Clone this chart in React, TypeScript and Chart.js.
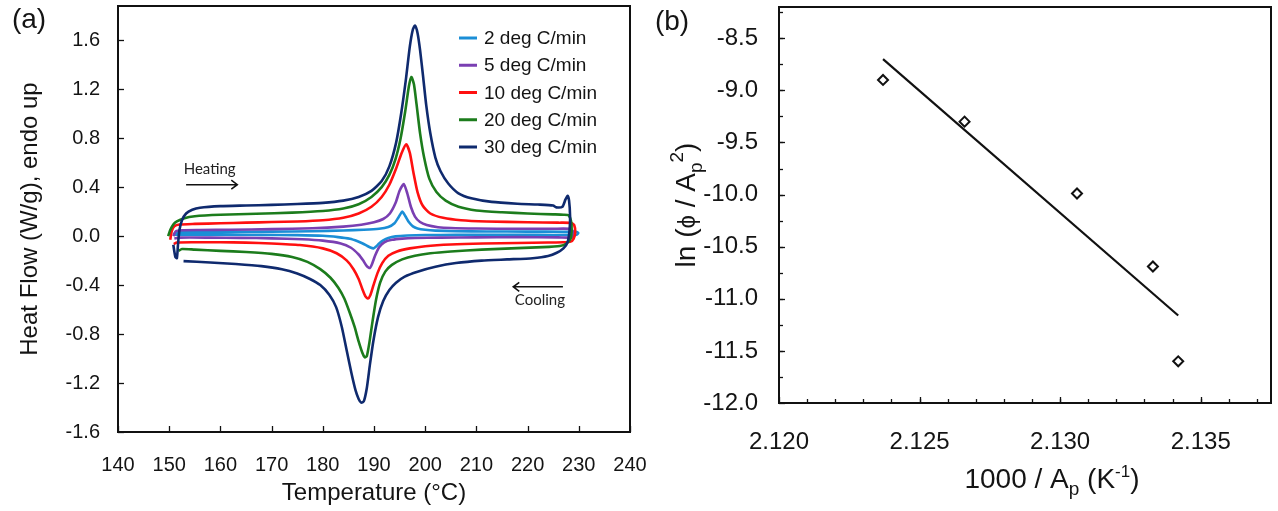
import React, { useEffect, useRef } from "react";
import { Chart, registerables } from "chart.js";

Chart.register(...registerables);

// ---------------- Panel (a): DSC heat flow loops ----------------
const tempTicks = [140, 150, 160, 170, 180, 190, 200, 210, 220, 230, 240];
const heatFlowTicks = [-1.6, -1.2, -0.8, -0.4, 0.0, 0.4, 0.8, 1.2, 1.6];
const rateLabels = ["2 deg C/min", "5 deg C/min", "10 deg C/min", "20 deg C/min", "30 deg C/min"];
const rateColors = ["#1b8ed6", "#7a3fb2", "#ff1010", "#1c7c1c", "#0f2a6e"];

// 2 deg C/min
const heat2T = [150.8, 151.5, 155, 162, 170, 178, 184, 188, 191, 192.8, 194, 194.8, 195.5, 196.1, 196.8, 197.6, 198.5, 200, 202, 206, 212, 220, 227, 229.5, 229.9];
const heat2V = [0.015, 0.03, 0.033, 0.035, 0.037, 0.04, 0.046, 0.052, 0.06, 0.075, 0.105, 0.155, 0.2, 0.165, 0.115, 0.08, 0.063, 0.052, 0.045, 0.04, 0.038, 0.037, 0.036, 0.036, 0.025];
const cool2T = [229.6, 228, 222, 214, 206, 200, 196.5, 194.2, 192.8, 191.8, 191, 190.4, 189.9, 189.3, 188.6, 187.8, 186.8, 185.3, 183, 180, 175, 168, 160, 152, 151];
const cool2V = [0.012, 0.01, 0.01, 0.01, 0.01, 0.009, 0.005, -0.002, -0.015, -0.035, -0.06, -0.085, -0.1, -0.093, -0.078, -0.06, -0.042, -0.022, -0.008, 0.003, 0.008, 0.01, 0.012, 0.012, 0.012];

// 5 deg C/min
const heat5T = [150.8, 151.3, 152.5, 156, 162, 170, 178, 184, 187.5, 190, 191.8, 193.1, 194.2, 195, 195.8, 196.5, 197.2, 198, 199, 200.3, 202.5, 205, 210, 218, 225, 228.5, 229];
const heat5V = [0.0, 0.04, 0.048, 0.05, 0.052, 0.057, 0.064, 0.078, 0.093, 0.113, 0.14, 0.185, 0.27, 0.37, 0.425, 0.35, 0.24, 0.16, 0.115, 0.09, 0.073, 0.066, 0.062, 0.06, 0.06, 0.058, 0.02];
const cool5T = [228.8, 226, 218, 210, 203, 198, 195.5, 193.5, 192, 191, 190.2, 189.6, 189.2, 188.6, 187.9, 187, 185.5, 183.5, 180, 176, 170, 164, 158, 152, 151];
const cool5V = [-0.01, -0.01, -0.008, -0.01, -0.012, -0.015, -0.02, -0.03, -0.05, -0.09, -0.16, -0.23, -0.26, -0.245, -0.2, -0.15, -0.095, -0.06, -0.037, -0.026, -0.018, -0.014, -0.012, -0.012, -0.02];

// 10 deg C/min
const heat10T = [150.2, 150.5, 151, 152, 155, 160, 165, 170, 175, 180, 184, 187, 189.5, 191.5, 193, 194.3, 195.4, 196.3, 197, 197.7, 198.5, 199.5, 201, 203.5, 207, 212, 220, 226, 228.5, 229.1, 229.3, 229];
const heat10V = [-0.03, 0.04, 0.08, 0.095, 0.1, 0.105, 0.11, 0.115, 0.12, 0.13, 0.15, 0.185, 0.24, 0.32, 0.42, 0.55, 0.68, 0.75, 0.68, 0.52, 0.36, 0.25, 0.185, 0.15, 0.13, 0.12, 0.113, 0.11, 0.108, 0.09, 0.03, -0.02];
const cool10T = [228.4, 227, 224, 218, 211.3, 205, 200, 197, 194.5, 192.8, 191.6, 190.7, 189.9, 189.3, 188.8, 188.3, 187.7, 187, 186, 184.7, 182.7, 180, 175.5, 170, 165, 160, 155, 151.5, 150.9];
const cool10V = [-0.045, -0.05, -0.052, -0.056, -0.06, -0.068, -0.082, -0.1, -0.125, -0.16, -0.22, -0.3, -0.4, -0.48, -0.51, -0.49, -0.43, -0.35, -0.27, -0.2, -0.14, -0.1, -0.073, -0.06, -0.053, -0.05, -0.05, -0.052, -0.065];

// 20 deg C/min
const heat20T = [149.8, 150.2, 150.8, 151.5, 152.8, 155, 160, 167, 174, 180, 184, 187, 189.5, 191.5, 193, 194.2, 195.2, 196.1, 196.8, 197.3, 197.8, 198.3, 199, 199.8, 200.8, 202.2, 204, 206.5, 210, 215, 220, 225, 227, 228, 228.5, 228.6];
const heat20V = [0.0, 0.05, 0.095, 0.12, 0.145, 0.163, 0.175, 0.183, 0.192, 0.205, 0.225, 0.26, 0.32, 0.4, 0.5, 0.63, 0.8, 1.02, 1.22, 1.3, 1.24, 1.08, 0.84, 0.64, 0.47, 0.36, 0.29, 0.24, 0.21, 0.195, 0.185, 0.178, 0.175, 0.17, 0.12, 0.05];
const cool20T = [228.4, 227.6, 226.3, 223, 218, 211, 205, 201, 198, 195.5, 193.5, 192.2, 191.2, 190.4, 189.7, 189.1, 188.6, 188.2, 187.7, 187, 186.2, 185.3, 184.2, 183, 181.5, 179.5, 177, 174, 170, 165, 160, 155, 152.5, 151.8];
const cool20V = [-0.02, -0.06, -0.08, -0.09, -0.098, -0.11, -0.125, -0.14, -0.16, -0.19, -0.235, -0.29, -0.38, -0.52, -0.7, -0.87, -0.98, -0.99, -0.95, -0.86, -0.74, -0.63, -0.51, -0.42, -0.34, -0.27, -0.21, -0.17, -0.145, -0.13, -0.12, -0.11, -0.105, -0.12];

// 30 deg C/min
const heat30T = [150.8, 151.2, 151.5, 151.7, 152, 152.5, 153.3, 154.5, 156, 160, 165, 170, 175, 180, 184, 187, 189.5, 191.5, 193, 194.3, 195.3, 196.2, 197, 197.6, 198, 198.5, 199, 199.6, 200.2, 201, 202, 203, 204.5, 206.5, 209, 213, 218, 222, 225, 225.6, 226.8, 227.4, 227.8, 228.1, 228.3, 228.2];
const heat30V = [-0.07, -0.17, -0.18, -0.08, 0.05, 0.13, 0.185, 0.215, 0.232, 0.245, 0.25, 0.255, 0.262, 0.272, 0.29, 0.32, 0.37, 0.45, 0.57, 0.76, 1.0, 1.27, 1.55, 1.69, 1.72, 1.66, 1.52, 1.3, 1.07, 0.84, 0.64, 0.53, 0.43, 0.35, 0.31, 0.28, 0.265, 0.258, 0.25, 0.235, 0.24, 0.3, 0.33, 0.29, 0.16, 0.05];
const cool30T = [227.8, 227, 225.7, 224, 221, 216, 211, 206, 202, 198.5, 196, 194.3, 193, 191.8, 190.8, 189.9, 189.2, 188.6, 188, 187.5, 187, 186.4, 185.6, 184.7, 183.7, 182.6, 181.3, 179.5, 177.5, 175, 172, 168, 163, 158, 152.8];
const cool30V = [-0.05, -0.1, -0.136, -0.163, -0.18, -0.19, -0.2, -0.22, -0.25, -0.29, -0.33, -0.38, -0.44, -0.53, -0.66, -0.85, -1.05, -1.24, -1.35, -1.36, -1.33, -1.26, -1.12, -0.94, -0.74, -0.58, -0.48, -0.4, -0.35, -0.305, -0.27, -0.245, -0.228, -0.215, -0.204];

const heatTs = [heat2T, heat5T, heat10T, heat20T, heat30T];
const heatVs = [heat2V, heat5V, heat10V, heat20V, heat30V];
const coolTs = [cool2T, cool5T, cool10T, cool20T, cool30T];
const coolVs = [cool2V, cool5V, cool10V, cool20V, cool30V];

// annotation anchors (data coordinates)
const heatingNote = { text: "Heating", tx: 157.9, ty: 0.545, x0: 153.3, x1: 163.3, ay: 0.42 };
const coolingNote = { text: "Cooling", tx: 222.4, ty: -0.52, x0: 226.9, x1: 217.2, ay: -0.414 };

// ---------------- Panel (b): Kissinger plot ----------------
const invTempTicks = [2.12, 2.125, 2.13, 2.135];
const lnTicks = [-12.0, -11.5, -11.0, -10.5, -10.0, -9.5, -9.0, -8.5];
const invTemp = [2.1237, 2.1266, 2.1306, 2.1333, 2.1342];
const lnRate = [-8.9, -9.3, -9.99, -10.69, -11.6];
const fitX = [2.1237, 2.1342];
const fitY = [-8.7, -11.16];

const SANS = '"Liberation Sans", Arial, "DejaVu Sans", sans-serif';
const TXT = "#141414";

type Seg = { t: string; size: number; dy?: number };

function drawRich(ctx: CanvasRenderingContext2D, segs: Seg[], cx: number, cy: number, rot: number, mainSize: number) {
  ctx.save();
  ctx.translate(cx, cy);
  ctx.rotate(rot);
  ctx.fillStyle = TXT;
  ctx.textAlign = "left";
  ctx.textBaseline = "alphabetic";
  let total = 0;
  const widths = segs.map((s) => {
    ctx.font = `${s.size}px ${SANS}`;
    const w = ctx.measureText(s.t).width;
    total += w;
    return w;
  });
  let x = -total / 2;
  const base = mainSize * 0.36;
  segs.forEach((s, i) => {
    ctx.font = `${s.size}px ${SANS}`;
    ctx.fillText(s.t, x, base + (s.dy || 0));
    x += widths[i];
  });
  ctx.restore();
}

function noPad(s: any) {
  s.paddingTop = 0;
  s.paddingBottom = 0;
  s.paddingLeft = 0;
  s.paddingRight = 0;
}

function framePlugin(opts: {
  xMajor: number[];
  yMajor: number[];
  xMinor?: number[];
  yMinor?: number[];
  majorLen: number;
  minorLen: number;
}) {
  return {
    id: "frameTicks",
    afterDatasetsDraw(chart: any) {
      const { ctx, chartArea: ca, scales } = chart;
      ctx.save();
      ctx.strokeStyle = "#111";
      ctx.lineWidth = 1.3;
      const tx = (vals: number[], len: number) =>
        vals.forEach((v) => {
          const p = Math.round(scales.x.getPixelForValue(v)) + 0.5;
          ctx.beginPath();
          ctx.moveTo(p, ca.bottom);
          ctx.lineTo(p, ca.bottom - len);
          ctx.stroke();
        });
      const ty = (vals: number[], len: number) =>
        vals.forEach((v) => {
          const p = Math.round(scales.y.getPixelForValue(v)) + 0.5;
          ctx.beginPath();
          ctx.moveTo(ca.left, p);
          ctx.lineTo(ca.left + len, p);
          ctx.stroke();
        });
      tx(opts.xMajor, opts.majorLen);
      ty(opts.yMajor, opts.majorLen);
      if (opts.xMinor) tx(opts.xMinor, opts.minorLen);
      if (opts.yMinor) ty(opts.yMinor, opts.minorLen);
      ctx.lineWidth = 2;
      ctx.strokeStyle = "#111";
      ctx.strokeRect(ca.left, ca.top, ca.right - ca.left, ca.bottom - ca.top);
      ctx.restore();
    },
  };
}

function arrow(ctx: CanvasRenderingContext2D, x0: number, x1: number, y: number) {
  const dir = Math.sign(x1 - x0);
  ctx.beginPath();
  ctx.moveTo(x0, y);
  ctx.lineTo(x1, y);
  ctx.moveTo(x1 - dir * 6, y - 4.5);
  ctx.lineTo(x1, y);
  ctx.lineTo(x1 - dir * 6, y + 4.5);
  ctx.stroke();
}

export default function App() {
  const refA = useRef<HTMLCanvasElement>(null);
  const refB = useRef<HTMLCanvasElement>(null);

  useEffect(() => {
    const datasetsA = rateLabels.map((label, i) => {
      const heat = heatTs[i].map((t, k) => ({ x: t, y: heatVs[i][k] }));
      const cool = coolTs[i].map((t, k) => ({ x: t, y: coolVs[i][k] }));
      return {
        label,
        data: heat.concat(cool),
        borderColor: rateColors[i],
        backgroundColor: rateColors[i],
        borderWidth: 2.6,
        pointRadius: 0,
        showLine: true,
        tension: 0.2,
        fill: false,
        order: 5 - i,
      };
    });

    const annotA = {
      id: "annotA",
      afterDraw(chart: any) {
        const { ctx, chartArea: ca, scales } = chart;
        const xs = scales.x;
        const ys = scales.y;
        ctx.save();
        // legend
        const lx = ca.right - 171;
        const ly = ca.top + 32;
        rateLabels.forEach((lab, i) => {
          const y = ly + i * 27.25;
          ctx.strokeStyle = rateColors[i];
          ctx.lineWidth = 3;
          ctx.beginPath();
          ctx.moveTo(lx, y);
          ctx.lineTo(lx + 18, y);
          ctx.stroke();
          ctx.fillStyle = TXT;
          ctx.font = `19px ${SANS}`;
          ctx.textAlign = "left";
          ctx.textBaseline = "middle";
          ctx.fillText(lab, lx + 25, y + 1);
        });
        // heating / cooling notes
        ctx.strokeStyle = "#111";
        ctx.lineWidth = 1.6;
        [heatingNote, coolingNote].forEach((n) => {
          arrow(ctx, xs.getPixelForValue(n.x0), xs.getPixelForValue(n.x1), ys.getPixelForValue(n.ay));
          ctx.fillStyle = "#222";
          ctx.font = `15px Lato, "Open Sans", sans-serif`;
          ctx.textAlign = "center";
          ctx.textBaseline = "middle";
          ctx.fillText(n.text, xs.getPixelForValue(n.tx), ys.getPixelForValue(n.ty));
        });
        // panel letter
        ctx.fillStyle = TXT;
        ctx.font = `28px ${SANS}`;
        ctx.textAlign = "center";
        ctx.textBaseline = "middle";
        ctx.fillText("(a)", 29, 20);
        ctx.restore();
      },
    };

    const chartA = new Chart(refA.current as HTMLCanvasElement, {
      type: "scatter",
      data: { datasets: datasetsA as any },
      options: {
        animation: false,
        responsive: false,
        maintainAspectRatio: false,
        events: [],
        layout: { padding: { top: 6, right: 50, left: 0, bottom: 0 } },
        plugins: { legend: { display: false }, tooltip: { enabled: false } },
        scales: {
          x: {
            type: "linear",
            min: 140,
            max: 240,
            grid: { display: false, drawTicks: false },
            border: { display: false },
            afterBuildTicks: (s: any) => {
              s.ticks = tempTicks.map((v) => ({ value: v }));
            },
            afterFit: (s: any) => {
              s.height = 79;
              noPad(s);
            },
            ticks: {
              padding: 21,
              color: TXT,
              font: { family: SANS, size: 20 },
              maxRotation: 0,
              autoSkip: false,
              callback: (v: any) => String(v),
            },
            title: {
              display: true,
              text: "Temperature (°C)",
              color: TXT,
              font: { family: SANS, size: 24 },
              padding: { top: 0, bottom: 3 },
            },
          },
          y: {
            type: "linear",
            min: -1.6,
            max: 1.88,
            grid: { display: false, drawTicks: false },
            border: { display: false },
            afterBuildTicks: (s: any) => {
              s.ticks = heatFlowTicks.map((v) => ({ value: v }));
            },
            afterFit: (s: any) => {
              s.width = 118;
              noPad(s);
            },
            ticks: {
              padding: 18,
              color: TXT,
              font: { family: SANS, size: 20 },
              autoSkip: false,
              callback: (v: any) => Number(v).toFixed(1),
            },
            title: {
              display: true,
              text: "Heat Flow (W/g), endo up",
              color: TXT,
              font: { family: SANS, size: 24 },
              padding: { top: 16, bottom: 0 },
            },
          },
        },
      },
      plugins: [
        framePlugin({ xMajor: tempTicks, yMajor: heatFlowTicks, majorLen: 6, minorLen: 3 }) as any,
        annotA as any,
      ],
    });

    const xMinorB: number[] = [];
    for (let k = 1; k <= 17; k++) xMinorB.push(2.12 + k * 0.001);
    const yMinorB: number[] = [];
    for (let k = 1; k <= 15; k++) yMinorB.push(-12 + k * 0.25);

    const annotB = {
      id: "annotB",
      afterDraw(chart: any) {
        const { ctx, chartArea: ca } = chart;
        ctx.save();
        ctx.fillStyle = TXT;
        ctx.font = `28px ${SANS}`;
        ctx.textAlign = "center";
        ctx.textBaseline = "middle";
        ctx.fillText("(b)", 32, 22);
        ctx.restore();
        drawRich(
          ctx,
          [
            { t: "1000 / A", size: 28 },
            { t: "p", size: 19, dy: 7 },
            { t: " (K", size: 28 },
            { t: "-1", size: 17, dy: -11 },
            { t: ")", size: 28 },
          ],
          412,
          478,
          0,
          28
        );
        drawRich(
          ctx,
          [
            { t: "ln (", size: 28 },
            { t: "ϕ", size: 24 },
            { t: " / A", size: 28 },
            { t: "p", size: 19, dy: 7 },
            { t: "2", size: 19, dy: -12 },
            { t: ")", size: 28 },
          ],
          45,
          (ca.top + ca.bottom) / 2,
          -Math.PI / 2,
          28
        );
      },
    };

    const chartB = new Chart(refB.current as HTMLCanvasElement, {
      type: "scatter",
      data: {
        datasets: [
          {
            label: "data",
            data: invTemp.map((x, i) => ({ x, y: lnRate[i] })),
            pointStyle: "rectRot",
            pointRadius: 5,
            borderColor: "#111",
            backgroundColor: "#fff",
            borderWidth: 2,
            showLine: false,
          },
          {
            label: "fit",
            data: fitX.map((x, i) => ({ x, y: fitY[i] })),
            borderColor: "#111",
            borderWidth: 2.2,
            pointRadius: 0,
            showLine: true,
            fill: false,
          },
        ] as any,
      },
      options: {
        animation: false,
        responsive: false,
        maintainAspectRatio: false,
        events: [],
        layout: { padding: { top: 5, right: 6, left: 0, bottom: 0 } },
        plugins: { legend: { display: false }, tooltip: { enabled: false } },
        scales: {
          x: {
            type: "linear",
            min: 2.12,
            max: 2.1375,
            grid: { display: false, drawTicks: false },
            border: { display: false },
            afterBuildTicks: (s: any) => {
              s.ticks = invTempTicks.map((v) => ({ value: v }));
            },
            afterFit: (s: any) => {
              s.height = 108;
              noPad(s);
            },
            ticks: {
              padding: 25,
              color: TXT,
              font: { family: SANS, size: 24 },
              maxRotation: 0,
              autoSkip: false,
              callback: (v: any) => Number(v).toFixed(3),
            },
          },
          y: {
            type: "linear",
            min: -12.0,
            max: -8.2,
            grid: { display: false, drawTicks: false },
            border: { display: false },
            afterBuildTicks: (s: any) => {
              s.ticks = lnTicks.map((v) => ({ value: v }));
            },
            afterFit: (s: any) => {
              s.width = 139;
              noPad(s);
            },
            ticks: {
              padding: 21,
              color: TXT,
              font: { family: SANS, size: 24 },
              autoSkip: false,
              callback: (v: any) => Number(v).toFixed(1),
            },
          },
        },
      },
      plugins: [
        framePlugin({
          xMajor: invTempTicks,
          yMajor: lnTicks,
          xMinor: xMinorB,
          yMinor: yMinorB,
          majorLen: 6,
          minorLen: 4,
        }) as any,
        annotB as any,
      ],
    });

    return () => {
      chartA.destroy();
      chartB.destroy();
    };
  }, []);

  return (
    <div style={{ position: "fixed", left: 0, top: 0, width: 1278, height: 511, background: "#fff" }}>
      <canvas ref={refA} width={680} height={511} style={{ position: "absolute", left: 0, top: 0, width: 680, height: 511 }} />
      <canvas ref={refB} width={638} height={511} style={{ position: "absolute", left: 640, top: 0, width: 638, height: 511 }} />
    </div>
  );
}
